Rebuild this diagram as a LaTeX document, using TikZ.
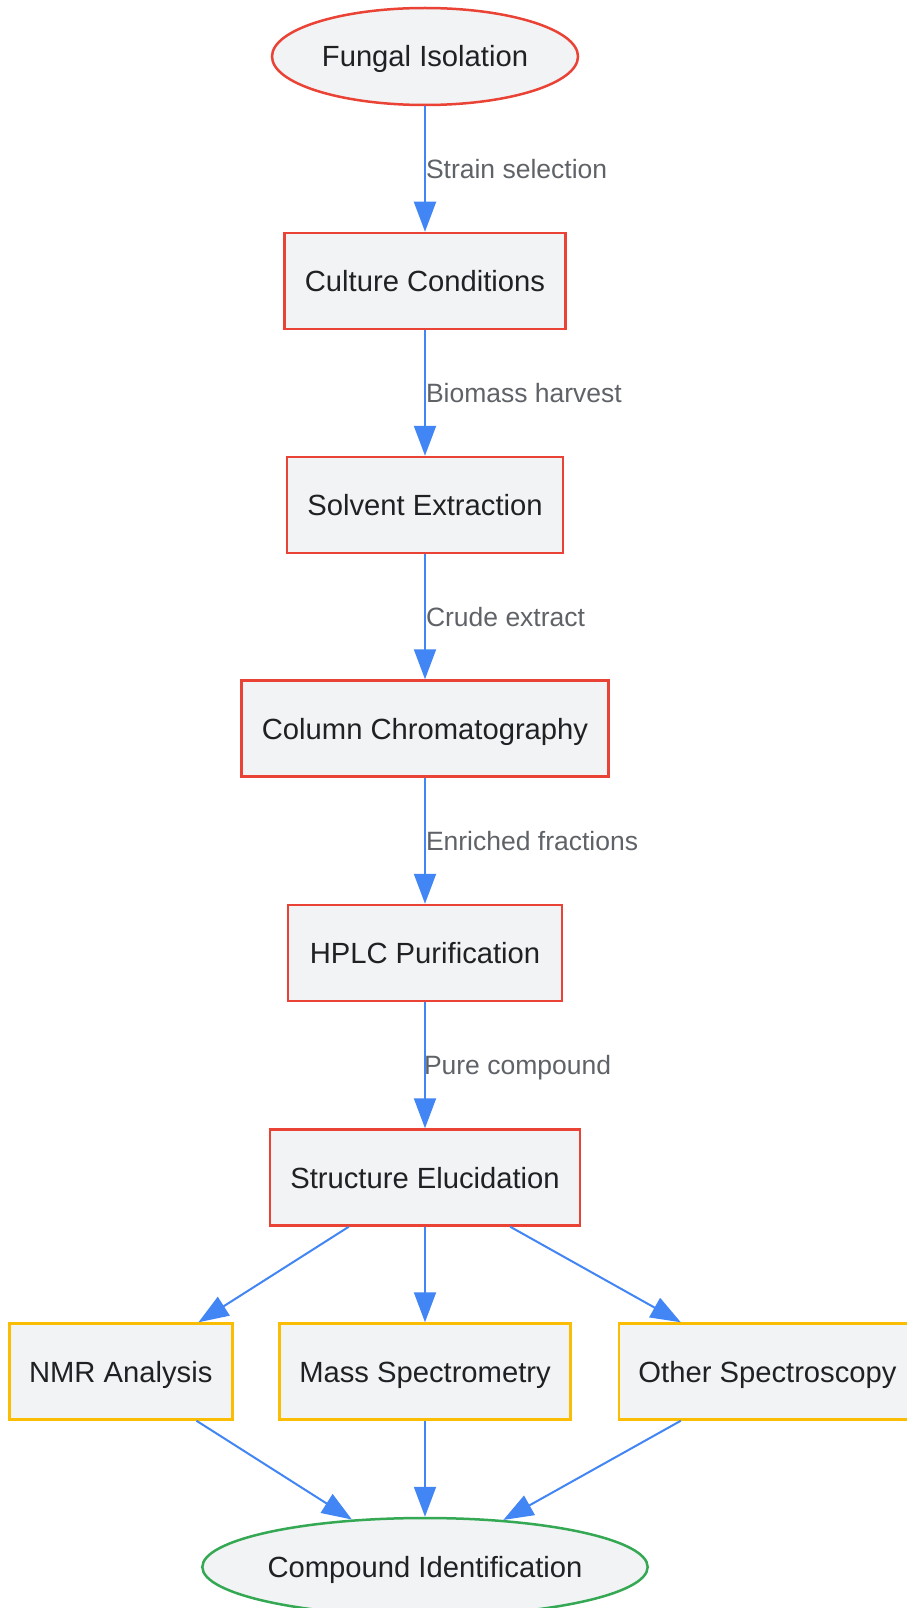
\documentclass[tikz,border=0pt]{standalone}
\usepackage{fontspec}
\setmainfont{Liberation Sans}
\usetikzlibrary{arrows.meta,shapes.geometric}
\definecolor{gred}{HTML}{EA4335}
\definecolor{gyel}{HTML}{FBBC04}
\definecolor{ggreen}{HTML}{34A853}
\definecolor{gblue}{HTML}{4285F4}
\definecolor{nfill}{HTML}{F1F3F4}
\definecolor{ntext}{HTML}{202124}
\definecolor{ltext}{HTML}{5F6368}
\begin{document}
\begin{tikzpicture}[x=1pt,y=-1pt,
 base/.style={fill=nfill, line width=2.5pt, text=ntext, font=\fontsize{29.2}{35}\selectfont, inner sep=0pt, minimum height=96pt, text height=21pt, text depth=0pt},
 redbox/.style={base, draw=gred, rectangle},
 yelbox/.style={base, draw=gyel, rectangle},
 redell/.style={base, draw=gred, ellipse, minimum height=97pt},
 greenell/.style={base, draw=ggreen, ellipse, minimum height=98pt},
 arr/.style={draw=gblue, line width=2pt, -{Triangle[length=30pt,width=22pt]}},
 lbl/.style={text=ltext, font=\fontsize{26.5}{32}\selectfont, anchor=west, inner sep=0pt, text height=19pt, text depth=0pt}
]
\useasboundingbox (0,0) rectangle (907,1608);
\clip (0,0) rectangle (907,1608);
\fill[white] (0,0) rectangle (907,1608);

\node[redell, minimum width=306pt] (fungal) at (425,56.5) {Fungal Isolation};
\node[redbox, minimum width=281pt] (culture) at (425,281) {Culture Conditions};
\node[redbox, minimum width=276pt] (solvent) at (425,505) {Solvent Extraction};
\node[redbox, minimum width=367pt] (column) at (425,728.5) {Column Chromatography};
\node[redbox, minimum width=274pt] (hplc) at (425,953) {HPLC Purification};
\node[redbox, minimum width=310pt] (struct) at (425,1177.5) {Structure Elucidation};
\node[yelbox, minimum width=223pt] (nmr) at (120.75,1371.5) {NMR Analysis};
\node[yelbox, minimum width=291pt] (mass) at (425,1371.5) {Mass Spectrometry};
\node[yelbox, minimum width=297pt] (other) at (767.5,1371.5) {Other Spectroscopy};
\node[greenell, minimum width=441pt] (comp) at (425,1567) {Compound Identification};

\draw[arr] (fungal) -- node[lbl] {Strain selection} (culture);
\draw[arr] (culture) -- node[lbl] {Biomass harvest} (solvent);
\draw[arr] (solvent) -- node[lbl] {Crude extract} (column);
\draw[arr] (column) -- node[lbl] {Enriched fractions} (hplc);
\draw[arr] (hplc) -- node[lbl, xshift=-2pt] {Pure compound} (struct);

\draw[arr] ([xshift=80pt]struct.south west) -- ([xshift=-35pt]nmr.north east);
\draw[arr] (struct.south) -- (mass.north);
\draw[arr] ([xshift=-71pt]struct.south east) -- ([xshift=63pt]other.north west);

\draw[arr] ([xshift=-37pt]nmr.south east) -- (comp.147);
\draw[arr] (mass.south) -- (comp.north);
\draw[arr] ([xshift=63pt]other.south west) -- (comp.31);
\end{tikzpicture}
\end{document}
